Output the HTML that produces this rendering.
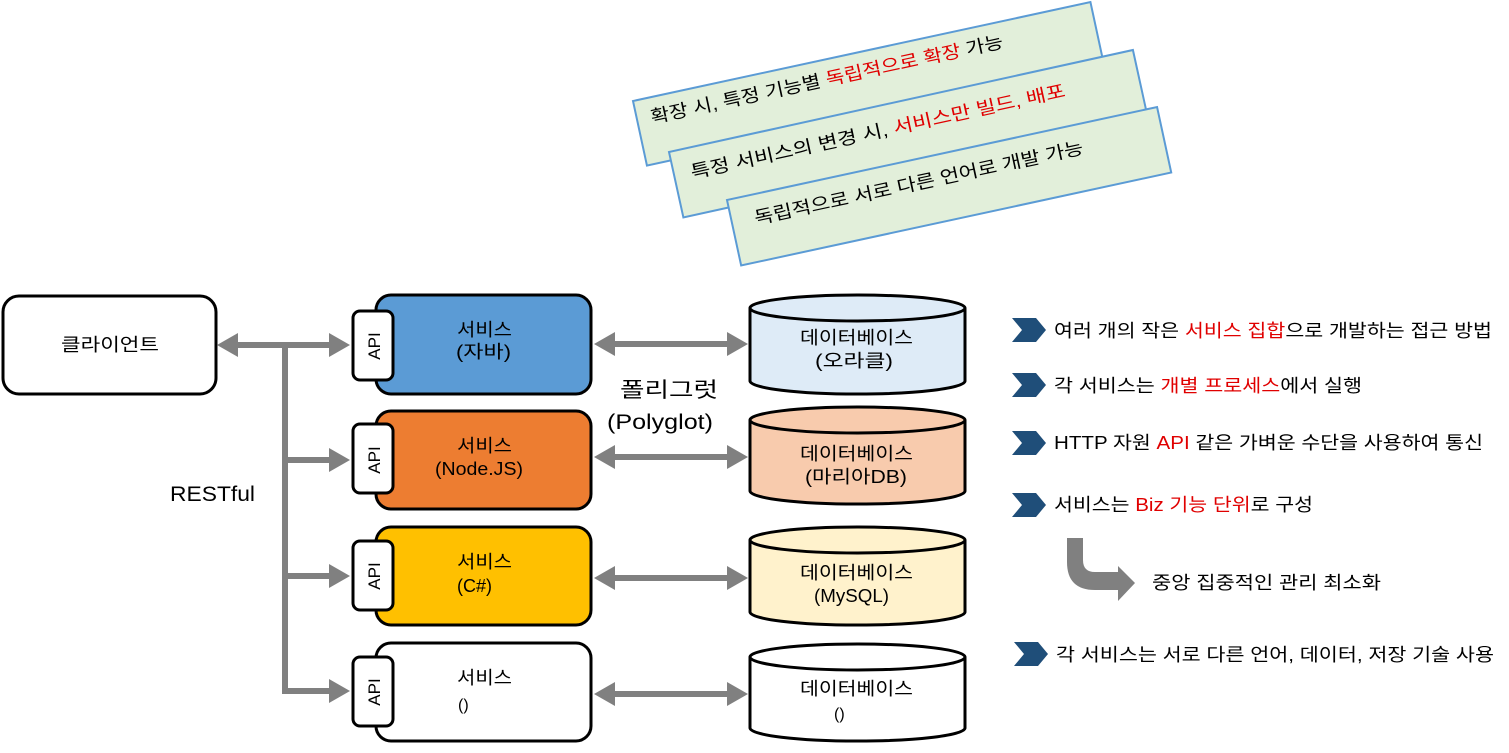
<!DOCTYPE html>
<html><head><meta charset="utf-8"><style>
html,body{margin:0;padding:0;background:#fff;}
svg text{font-family:"Liberation Sans","Noto Sans CJK KR","NanumGothic",sans-serif;}
</style></head><body>
<svg width="1509" height="748" viewBox="0 0 1509 748" xmlns="http://www.w3.org/2000/svg">
<defs>
<marker id="ah" markerWidth="4" markerHeight="4" refX="2" refY="2" orient="auto-start-reverse" markerUnits="strokeWidth"><path d="M0,0 L3.5,2 L0,4 Z" fill="#808080"/></marker>
</defs>

<!-- Green notes -->
<g transform="translate(633,101) rotate(-12.2)">
<rect x="0" y="0" width="468" height="66" fill="#e2efda" stroke="#5b9bd5" stroke-width="2"/>
<text x="14" y="26" font-size="18" fill="#000" textLength="360" lengthAdjust="spacingAndGlyphs">확장 시, 특정 기능별 <tspan fill="#e00000">독립적으로 확장</tspan> 가능</text>
</g>
<g transform="translate(669,152) rotate(-12.4)">
<rect x="0" y="0" width="475" height="67" fill="#e2efda" stroke="#5b9bd5" stroke-width="2"/>
<text x="17" y="31" font-size="18" fill="#000" textLength="383" lengthAdjust="spacingAndGlyphs">특정 서비스의 변경 시, <tspan fill="#e00000">서비스만 빌드, 배포</tspan></text>
</g>
<g transform="translate(727,200) rotate(-12.2)">
<rect x="0" y="0" width="440" height="67" fill="#e2efda" stroke="#5b9bd5" stroke-width="2"/>
<text x="23" y="30" font-size="18" fill="#000" textLength="336" lengthAdjust="spacingAndGlyphs">독립적으로 서로 다른 언어로 개발 가능</text>
</g>

<!-- Client -->
<rect x="3" y="296" width="213" height="98" rx="16" fill="#fff" stroke="#000" stroke-width="3"/>
<text x="61" y="351" font-size="18" textLength="98" lengthAdjust="spacingAndGlyphs">클라이언트</text>

<!-- connectors -->
<g stroke="#808080" stroke-width="6" fill="none">
<line x1="226" y1="345" x2="341" y2="345" marker-start="url(#ah)" marker-end="url(#ah)"/>
<polyline points="285,345 285,694"/>
<line x1="285" y1="460" x2="341" y2="460" marker-end="url(#ah)"/>
<line x1="285" y1="576" x2="341" y2="576" marker-end="url(#ah)"/>
<line x1="282" y1="691" x2="341" y2="691" marker-end="url(#ah)"/>
<line x1="603" y1="344" x2="739" y2="344" marker-start="url(#ah)" marker-end="url(#ah)"/>
<line x1="603" y1="457" x2="739" y2="457" marker-start="url(#ah)" marker-end="url(#ah)"/>
<line x1="603" y1="578" x2="739" y2="578" marker-start="url(#ah)" marker-end="url(#ah)"/>
<line x1="603" y1="694" x2="739" y2="694" marker-start="url(#ah)" marker-end="url(#ah)"/>
</g>
<text x="170" y="501" font-size="21" textLength="85" lengthAdjust="spacingAndGlyphs">RESTful</text>
<text x="620" y="397" font-size="21" textLength="98" lengthAdjust="spacingAndGlyphs">폴리그럿</text>
<text x="607" y="429" font-size="21" textLength="106" lengthAdjust="spacingAndGlyphs">(Polyglot)</text>

<!-- Services -->
<g stroke="#000" stroke-width="3">
<rect x="376" y="295" width="215" height="99" rx="15" fill="#5b9bd5"/>
<rect x="376" y="411" width="215" height="98" rx="15" fill="#ed7d31"/>
<rect x="376" y="527" width="215" height="98" rx="15" fill="#ffc000"/>
<rect x="376" y="643" width="215" height="98" rx="15" fill="#fff"/>
<rect x="353" y="311" width="40" height="69" rx="7" fill="#fff"/>
<rect x="353" y="424" width="40" height="69" rx="7" fill="#fff"/>
<rect x="353" y="541" width="40" height="69" rx="7" fill="#fff"/>
<rect x="353" y="657" width="40" height="69" rx="7" fill="#fff"/>
</g>
<g font-size="17" text-anchor="middle">
<text transform="translate(380,346) rotate(-90)">API</text>
<text transform="translate(380,460) rotate(-90)">API</text>
<text transform="translate(380,576) rotate(-90)">API</text>
<text transform="translate(380,692) rotate(-90)">API</text>
</g>
<g font-size="18">
<text x="457" y="336" textLength="55" lengthAdjust="spacingAndGlyphs">서비스</text><text x="456" y="358" textLength="55" lengthAdjust="spacingAndGlyphs">(자바)</text>
<text x="457" y="452" textLength="55" lengthAdjust="spacingAndGlyphs">서비스</text><text x="435" y="475" textLength="88" lengthAdjust="spacingAndGlyphs">(Node.JS)</text>
<text x="457" y="568" textLength="55" lengthAdjust="spacingAndGlyphs">서비스</text><text x="457" y="592">(C#)</text>
<text x="457" y="684" textLength="55" lengthAdjust="spacingAndGlyphs">서비스</text><text x="458" y="710" font-size="16">()</text>
</g>

<!-- DBs -->
<g stroke="#000" stroke-width="3">
<path d="M750,308 V381 A107,13 0 0 0 965,381 V308" fill="#deebf7"/>
<ellipse cx="857.5" cy="308" rx="107.5" ry="13" fill="#deebf7"/>
<path d="M750,420 V491 A107,13 0 0 0 965,491 V420" fill="#f8cbad"/>
<ellipse cx="857.5" cy="420" rx="107.5" ry="13" fill="#f8cbad"/>
<path d="M750,540 V612 A107,13 0 0 0 965,612 V540" fill="#fff2cc"/>
<ellipse cx="857.5" cy="540" rx="107.5" ry="13" fill="#fff2cc"/>
<path d="M750,657 V728 A107,13 0 0 0 965,728 V657" fill="#fff"/>
<ellipse cx="857.5" cy="657" rx="107.5" ry="13" fill="#fff"/>
</g>
<g font-size="18">
<text x="800" y="344" textLength="113" lengthAdjust="spacingAndGlyphs">데이터베이스</text><text x="815" y="367" textLength="78" lengthAdjust="spacingAndGlyphs">(오라클)</text>
<text x="800" y="460" textLength="113" lengthAdjust="spacingAndGlyphs">데이터베이스</text><text x="805" y="483" textLength="102" lengthAdjust="spacingAndGlyphs">(마리아DB)</text>
<text x="800" y="579" textLength="113" lengthAdjust="spacingAndGlyphs">데이터베이스</text><text x="814" y="602" textLength="75" lengthAdjust="spacingAndGlyphs">(MySQL)</text>
<text x="800" y="695" textLength="113" lengthAdjust="spacingAndGlyphs">데이터베이스</text><text x="834" y="719" font-size="16">()</text>
</g>

<!-- right list -->
<g fill="#1f4e79">
<polygon points="1012,318 1036,318 1046,330 1036,342 1012,342 1022,330"/>
<polygon points="1012,373 1036,373 1046,385 1036,397 1012,397 1022,385"/>
<polygon points="1012,431 1036,431 1046,443 1036,455 1012,455 1022,443"/>
<polygon points="1012,493 1036,493 1046,505 1036,517 1012,517 1022,505"/>
<polygon points="1014,642 1038,642 1048,654 1038,666 1014,666 1024,654"/>
</g>
<g font-size="18">
<text x="1054" y="337" textLength="438" lengthAdjust="spacingAndGlyphs">여러 개의 작은 <tspan fill="#e00000">서비스 집합</tspan>으로 개발하는 접근 방법</text>
<text x="1054" y="392" textLength="308" lengthAdjust="spacingAndGlyphs">각 서비스는 <tspan fill="#e00000">개별 프로세스</tspan>에서 실행</text>
<text x="1054" y="449" textLength="429" lengthAdjust="spacingAndGlyphs">HTTP  자원 <tspan fill="#e00000">API</tspan>  같은 가벼운 수단을 사용하여 통신</text>
<text x="1054" y="511" textLength="259" lengthAdjust="spacingAndGlyphs">서비스는 <tspan fill="#e00000">Biz 기능 단위</tspan>로 구성</text>
<text x="1152" y="589" textLength="229" lengthAdjust="spacingAndGlyphs">중앙 집중적인 관리 최소화</text>
<text x="1056" y="661" textLength="438" lengthAdjust="spacingAndGlyphs">각 서비스는 서로 다른 언어, 데이터, 저장 기술 사용</text>
</g>
<path d="M1067,538 H1083 V560 Q1083,572 1095,572 H1118 V566 L1135,583 L1118,601 V590 H1095 Q1067,590 1067,562 Z" fill="#808080"/>
</svg>
</body></html>
